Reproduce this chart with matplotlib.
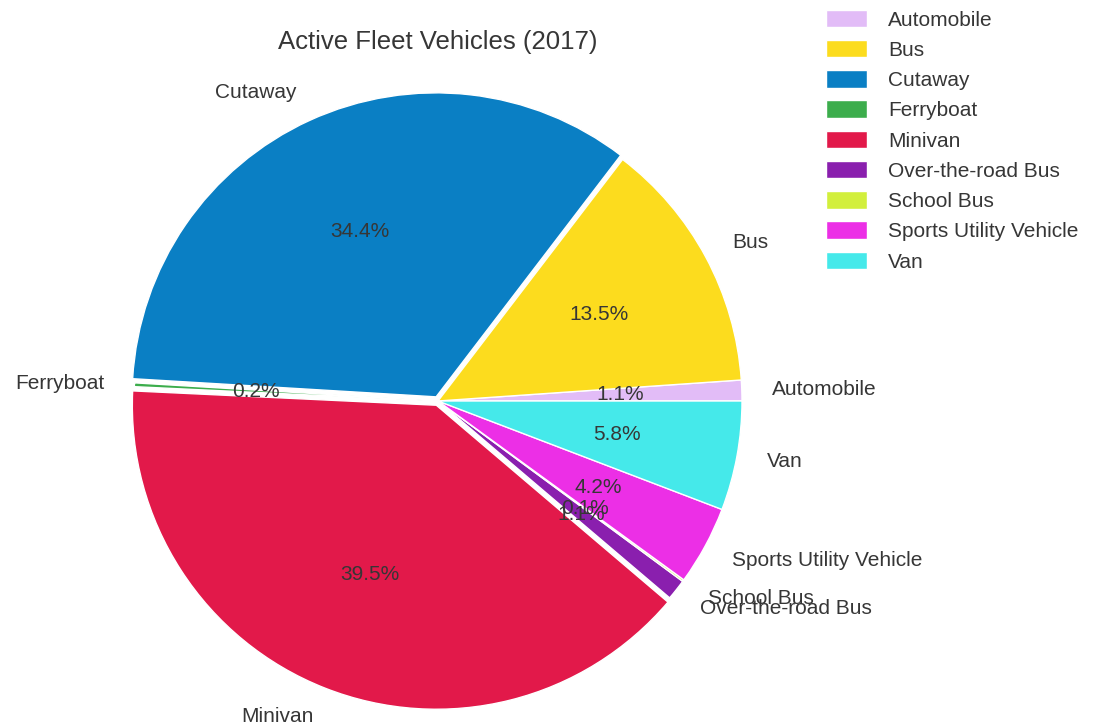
import matplotlib
matplotlib.use("Agg")
import matplotlib.pyplot as plt

categories = ["Automobile", "Bus", "Cutaway", "Ferryboat", "Minivan",
              "Over-the-road Bus", "School Bus", "Sports Utility Vehicle", "Van"]
shares = [1.1, 13.5, 34.4, 0.2, 39.5, 1.1, 0.1, 4.2, 5.8]
colors = ["#e2bcf7", "#fcdc1e", "#0a7fc4", "#3cad4c", "#e2194a",
          "#8a1fae", "#d2ef3c", "#ec2fe6", "#45e9ea"]
explode = [0, 0, 0.015, 0, 0.015, 0, 0, 0, 0]
title = "Active Fleet Vehicles (2017)"

plt.rcParams['font.family'] = ['Liberation Sans', 'DejaVu Sans']
W, H = 1095, 727
fig = plt.figure(figsize=(W / 100, H / 100), dpi=100)

cx, cy, R = 438, 401, 304
half = 1.25 * R
ax = fig.add_axes([(cx - half) / W, 1 - (cy + half) / H, 2 * half / W, 2 * half / H])

wedges, texts, autotexts = ax.pie(
    shares, labels=categories, colors=colors, explode=explode,
    autopct="%1.1f%%", startangle=0, counterclock=True,
    wedgeprops=dict(edgecolor="white", linewidth=1.0),
    textprops=dict(fontsize=15, color="#363636"))
for t in autotexts:
    t.set_color("#363636")
ax.set_xlim(-1.25, 1.25)
ax.set_ylim(-1.25, 1.25)
ax.set_aspect("equal")

fig.text(cx / W, 1 - 42 / H, title, ha="center", va="center",
         fontsize=18.5, color="#363636")

leg = fig.legend(wedges, categories, loc="upper left",
                 bbox_to_anchor=(807 / W, 1 + 9 / H), frameon=False,
                 fontsize=15, handlelength=2.0, handleheight=0.9,
                 handletextpad=1.0, labelspacing=0.50)
for t in leg.get_texts():
    t.set_color("#363636")

fig.savefig("out.png", dpi=100)
